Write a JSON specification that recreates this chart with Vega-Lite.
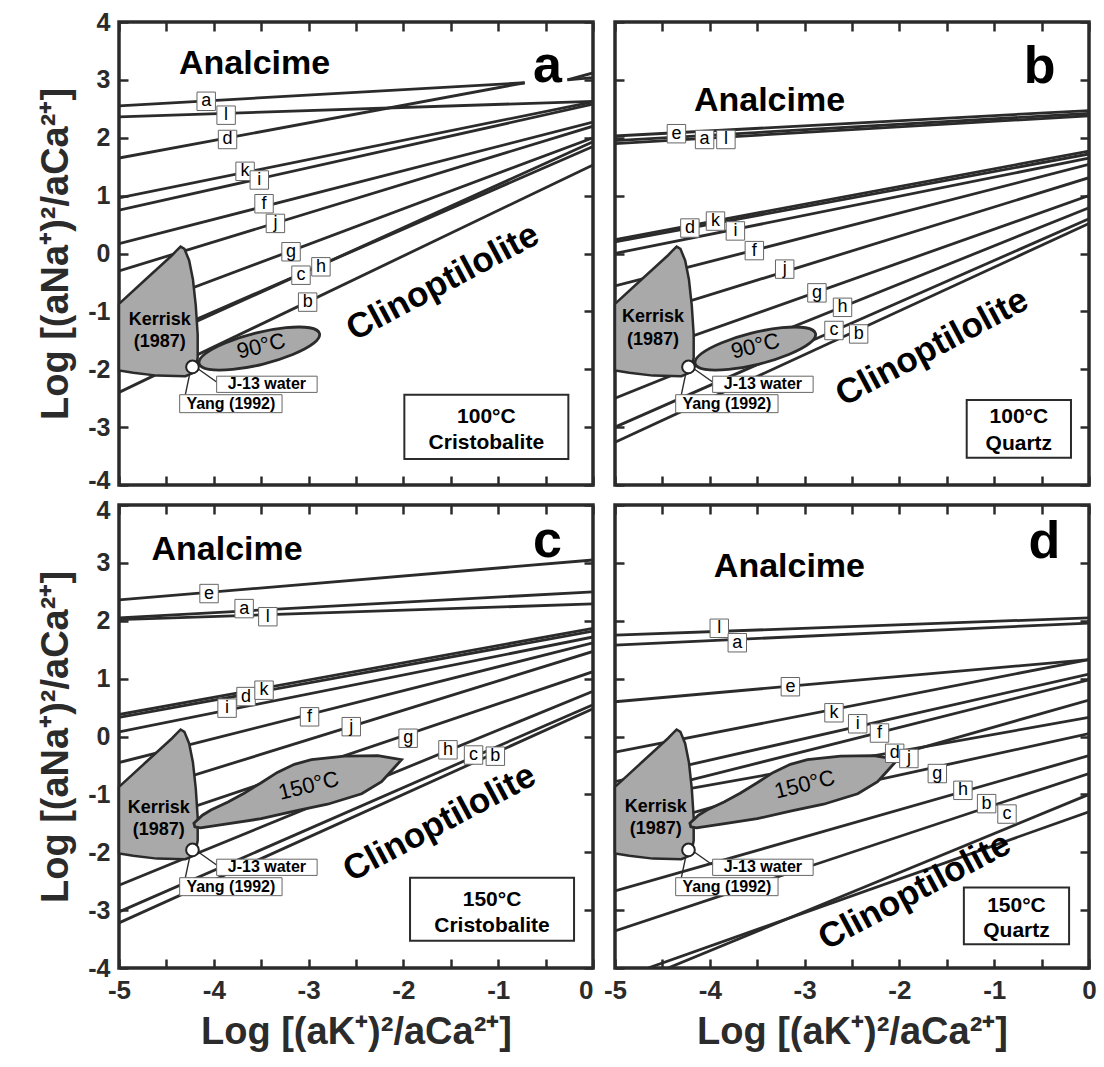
{
"$schema":"https://vega.github.io/schema/vega-lite/v6.json",
"padding":{"left":36,"top":8,"right":8,"bottom":5},
"background":"white",
"bounds":"flush",
"columns":2,
"spacing":{"row":20,"column":22},
"config":{
 "font":"Liberation Sans",
 "mark":{"color":"#2b2b2b"},
 "view":{"stroke":"#2b2b2b","strokeWidth":3.5},
 "style":{
  "seg":{"strokeWidth":2.8},
  "tag":{"fontSize":18,"align":"center","baseline":"middle"},
  "an":{"fontSize":34,"fontWeight":"bold","align":"center","baseline":"alphabetic"},
  "pl":{"fontSize":52,"fontWeight":"bold","align":"center","baseline":"alphabetic"},
  "cl":{"fontSize":35,"fontWeight":"bold","align":"center","baseline":"middle","angle":-28},
  "ke":{"fontSize":18,"fontWeight":"bold","align":"center","baseline":"middle"},
  "sh":{"fontSize":22,"align":"center","baseline":"middle","angle":-14},
  "bx":{"fontSize":21,"fontWeight":"bold","align":"center","baseline":"middle"},
  "sm":{"fontSize":16,"fontWeight":"bold","align":"center","baseline":"middle"}
 }
},
"datasets":{
 "L":[
  {"p":"a","id":"a","x":-5,"y":2.55},{"p":"a","id":"a","x":-0.72,"y":2.95},
  {"p":"a","id":"d","x":-5,"y":1.65},{"p":"a","id":"d","x":-0.72,"y":2.95},
  {"p":"a","id":"a2","x":-0.27,"y":3.0},{"p":"a","id":"a2","x":0,"y":3.04},
  {"p":"a","id":"a3","x":-0.27,"y":3.0},{"p":"a","id":"a3","x":0,"y":3.12},
  {"p":"a","id":"l","x":-5,"y":2.36},{"p":"a","id":"l","x":0,"y":2.63},
  {"p":"a","id":"k","x":-5,"y":0.96},{"p":"a","id":"k","x":0,"y":2.62},
  {"p":"a","id":"i","x":-5,"y":0.75},{"p":"a","id":"i","x":0,"y":2.58},
  {"p":"a","id":"f","x":-5,"y":0.17},{"p":"a","id":"f","x":0,"y":2.27},
  {"p":"a","id":"j","x":-5,"y":-0.3},{"p":"a","id":"j","x":0,"y":2.2},
  {"p":"a","id":"g","x":-5,"y":-1.07},{"p":"a","id":"g","x":0,"y":2.0},
  {"p":"a","id":"c","x":-5,"y":-1.72},{"p":"a","id":"c","x":0,"y":1.85},
  {"p":"a","id":"h","x":-5,"y":-1.78},{"p":"a","id":"h","x":0,"y":1.93},
  {"p":"a","id":"b","x":-5,"y":-2.4},{"p":"a","id":"b","x":0,"y":1.53},
  {"p":"b","id":"e","x":-5,"y":2.03},{"p":"b","id":"e","x":0,"y":2.47},
  {"p":"b","id":"a","x":-5,"y":1.95},{"p":"b","id":"a","x":0,"y":2.42},
  {"p":"b","id":"l","x":-5,"y":1.9},{"p":"b","id":"l","x":0,"y":2.38},
  {"p":"b","id":"d","x":-5,"y":0.24},{"p":"b","id":"d","x":0,"y":1.77},
  {"p":"b","id":"k","x":-5,"y":0.2},{"p":"b","id":"k","x":0,"y":1.72},
  {"p":"b","id":"i","x":-5,"y":0.0},{"p":"b","id":"i","x":0,"y":1.65},
  {"p":"b","id":"f","x":-5,"y":-0.56},{"p":"b","id":"f","x":0,"y":1.54},
  {"p":"b","id":"j","x":-5,"y":-1.22},{"p":"b","id":"j","x":0,"y":1.31},
  {"p":"b","id":"g","x":-5,"y":-1.9},{"p":"b","id":"g","x":0,"y":1.0},
  {"p":"b","id":"h","x":-5,"y":-2.5},{"p":"b","id":"h","x":0,"y":0.79},
  {"p":"b","id":"c","x":-5,"y":-3.0},{"p":"b","id":"c","x":0,"y":0.6},
  {"p":"b","id":"b","x":-5,"y":-3.26},{"p":"b","id":"b","x":0,"y":0.52},
  {"p":"c","id":"e","x":-5,"y":2.36},{"p":"c","id":"e","x":0,"y":3.05},
  {"p":"c","id":"a","x":-5,"y":2.05},{"p":"c","id":"a","x":0,"y":2.5},
  {"p":"c","id":"l","x":-5,"y":2.02},{"p":"c","id":"l","x":0,"y":2.29},
  {"p":"c","id":"d","x":-5,"y":0.38},{"p":"c","id":"d","x":0,"y":1.87},
  {"p":"c","id":"k","x":-5,"y":0.33},{"p":"c","id":"k","x":0,"y":1.82},
  {"p":"c","id":"i","x":-5,"y":0.08},{"p":"c","id":"i","x":0,"y":1.72},
  {"p":"c","id":"f","x":-5,"y":-0.45},{"p":"c","id":"f","x":0,"y":1.62},
  {"p":"c","id":"j","x":-5,"y":-1.07},{"p":"c","id":"j","x":0,"y":1.47},
  {"p":"c","id":"g","x":-5,"y":-1.65},{"p":"c","id":"g","x":0,"y":1.12},
  {"p":"c","id":"h","x":-5,"y":-2.57},{"p":"c","id":"h","x":0,"y":0.78},
  {"p":"c","id":"c","x":-5,"y":-3.03},{"p":"c","id":"c","x":0,"y":0.55},
  {"p":"c","id":"b","x":-5,"y":-3.22},{"p":"c","id":"b","x":0,"y":0.48},
  {"p":"d","id":"l","x":-5,"y":1.75},{"p":"d","id":"l","x":0,"y":2.05},
  {"p":"d","id":"a","x":-5,"y":1.58},{"p":"d","id":"a","x":0,"y":1.96},
  {"p":"d","id":"e","x":-5,"y":0.6},{"p":"d","id":"e","x":0,"y":1.33},
  {"p":"d","id":"k","x":-5,"y":-0.27},{"p":"d","id":"k","x":0,"y":1.33},
  {"p":"d","id":"i","x":-5,"y":-0.78},{"p":"d","id":"i","x":0,"y":1.08},
  {"p":"d","id":"f","x":-5,"y":-1.08},{"p":"d","id":"f","x":0,"y":0.98},
  {"p":"d","id":"d","x":-5,"y":-1.13},{"p":"d","id":"d","x":0,"y":0.33},
  {"p":"d","id":"j","x":-5,"y":-1.7},{"p":"d","id":"j","x":0,"y":0.63},
  {"p":"d","id":"g","x":-5,"y":-1.74},{"p":"d","id":"g","x":0,"y":0.05},
  {"p":"d","id":"h","x":-5,"y":-2.67},{"p":"d","id":"h","x":0,"y":-0.33},
  {"p":"d","id":"b","x":-5,"y":-3.36},{"p":"d","id":"b","x":0,"y":-0.64},
  {"p":"d","id":"c","x":-4.44,"y":-4},{"p":"d","id":"c","x":0,"y":-1.0},
  {"p":"d","id":"m","x":-4.65,"y":-4},{"p":"d","id":"m","x":0,"y":-1.3}
 ],
 "T":[
  {"p":"a","t":"a","x":-4.08,"y":2.63},{"p":"a","t":"l","x":-3.87,"y":2.39},{"p":"a","t":"d","x":-3.855,"y":1.97},
  {"p":"a","t":"k","x":-3.67,"y":1.42},{"p":"a","t":"i","x":-3.52,"y":1.27},{"p":"a","t":"f","x":-3.47,"y":0.86},
  {"p":"a","t":"j","x":-3.35,"y":0.52},{"p":"a","t":"g","x":-3.185,"y":0.03},{"p":"a","t":"c","x":-3.08,"y":-0.375},
  {"p":"a","t":"h","x":-2.87,"y":-0.23},{"p":"a","t":"b","x":-3.01,"y":-0.84},
  {"p":"b","t":"e","x":-4.352,"y":2.07},{"p":"b","t":"a","x":-4.055,"y":1.97},{"p":"b","t":"l","x":-3.83,"y":1.97},
  {"p":"b","t":"d","x":-4.21,"y":0.44},{"p":"b","t":"k","x":-3.94,"y":0.56},{"p":"b","t":"i","x":-3.73,"y":0.39},
  {"p":"b","t":"f","x":-3.53,"y":0.05},{"p":"b","t":"j","x":-3.21,"y":-0.27},{"p":"b","t":"g","x":-2.87,"y":-0.68},
  {"p":"b","t":"h","x":-2.6,"y":-0.93},{"p":"b","t":"c","x":-2.69,"y":-1.33},{"p":"b","t":"b","x":-2.43,"y":-1.39},
  {"p":"c","t":"e","x":-4.05,"y":2.47},{"p":"c","t":"a","x":-3.68,"y":2.21},{"p":"c","t":"l","x":-3.43,"y":2.07},
  {"p":"c","t":"i","x":-3.86,"y":0.49},{"p":"c","t":"d","x":-3.66,"y":0.69},{"p":"c","t":"k","x":-3.47,"y":0.8},
  {"p":"c","t":"f","x":-2.99,"y":0.34},{"p":"c","t":"j","x":-2.55,"y":0.17},{"p":"c","t":"g","x":-1.95,"y":-0.03},
  {"p":"c","t":"h","x":-1.53,"y":-0.23},{"p":"c","t":"c","x":-1.26,"y":-0.32},{"p":"c","t":"b","x":-1.03,"y":-0.34},
  {"p":"d","t":"l","x":-3.9,"y":1.87},{"p":"d","t":"a","x":-3.71,"y":1.62},{"p":"d","t":"e","x":-3.15,"y":0.86},
  {"p":"d","t":"k","x":-2.69,"y":0.41},{"p":"d","t":"i","x":-2.44,"y":0.22},{"p":"d","t":"f","x":-2.21,"y":0.06},
  {"p":"d","t":"d","x":-2.05,"y":-0.29},{"p":"d","t":"j","x":-1.9,"y":-0.38},{"p":"d","t":"g","x":-1.6,"y":-0.64},
  {"p":"d","t":"h","x":-1.33,"y":-0.93},{"p":"d","t":"b","x":-1.08,"y":-1.16},{"p":"d","t":"c","x":-0.865,"y":-1.34}
 ],
 "K":[
  {"o":1,"x":-5,"y":-0.87},{"o":2,"x":-4.72,"y":-0.45},{"o":3,"x":-4.44,"y":-0.03},{"o":4,"x":-4.38,"y":0.07},
  {"o":5,"x":-4.35,"y":0.12},{"o":6,"x":-4.31,"y":0.08},{"o":7,"x":-4.26,"y":-0.12},{"o":8,"x":-4.22,"y":-0.45},
  {"o":9,"x":-4.19,"y":-0.9},{"o":10,"x":-4.17,"y":-1.4},{"o":11,"x":-4.17,"y":-1.8},{"o":12,"x":-4.2,"y":-2.05},
  {"o":13,"x":-4.3,"y":-2.12},{"o":14,"x":-4.6,"y":-2.11},{"o":15,"x":-4.85,"y":-2.06},{"o":16,"x":-5,"y":-2.02}
 ],
 "E":[
  {"o":1,"x":-2.885,"y":-1.383},{"o":2,"x":-2.949,"y":-1.553},{"o":3,"x":-3.167,"y":-1.744},{"o":4,"x":-3.479,"y":-1.91},
  {"o":5,"x":-3.802,"y":-2.003},{"o":6,"x":-4.051,"y":-2.002},{"o":7,"x":-4.155,"y":-1.902},{"o":8,"x":-4.091,"y":-1.732},
  {"o":9,"x":-3.873,"y":-1.541},{"o":10,"x":-3.561,"y":-1.375},{"o":11,"x":-3.238,"y":-1.282},{"o":12,"x":-2.989,"y":-1.283}
 ],
 "S":[
  {"o":1,"x":-4.21,"y":-1.5},{"o":2,"x":-4.12,"y":-1.36},{"o":3,"x":-4.03,"y":-1.27},{"o":4,"x":-3.85,"y":-1.13},
  {"o":5,"x":-3.68,"y":-0.98},{"o":6,"x":-3.5,"y":-0.8},{"o":7,"x":-3.33,"y":-0.62},{"o":8,"x":-3.15,"y":-0.48},
  {"o":9,"x":-2.97,"y":-0.4},{"o":10,"x":-2.62,"y":-0.34},{"o":11,"x":-2.27,"y":-0.33},{"o":12,"x":-2.02,"y":-0.4},
  {"o":13,"x":-2.13,"y":-0.6},{"o":14,"x":-2.23,"y":-0.78},{"o":15,"x":-2.44,"y":-0.99},{"o":16,"x":-2.8,"y":-1.17},
  {"o":17,"x":-3.15,"y":-1.29},{"o":18,"x":-3.5,"y":-1.42},{"o":19,"x":-3.86,"y":-1.51},{"o":20,"x":-4.14,"y":-1.58},
  {"o":21,"x":-4.2,"y":-1.56}
 ],
 "C":[{"x":-4.225,"y":-1.96}],
 "D":[{"id":"j","x":-4.16,"y":-2.0},{"id":"j","x":-3.97,"y":-2.22},{"id":"y","x":-4.25,"y":-2.05},{"id":"y","x":-4.3,"y":-2.44}],
 "R":[
  {"p":"*","x":-3.97,"x2":-2.91,"y":-2.12,"y2":-2.4},
  {"p":"*","x":-4.36,"x2":-3.28,"y":-2.44,"y2":-2.75},
  {"p":"a","x":-1.99,"x2":-0.26,"y":-2.44,"y2":-3.55},
  {"p":"b","x":-1.29,"x2":-0.19,"y":-2.53,"y2":-3.53},
  {"p":"c","x":-1.93,"x2":-0.2,"y":-2.44,"y2":-3.53},
  {"p":"d","x":-1.32,"x2":-0.21,"y":-2.61,"y2":-3.59}
 ],
 "W":[
  {"p":"a","k":"an","t":"Analcime","x":-3.57,"y":3.11},
  {"p":"b","k":"an","t":"Analcime","x":-3.37,"y":2.46},
  {"p":"c","k":"an","t":"Analcime","x":-3.86,"y":3.05},
  {"p":"d","k":"an","t":"Analcime","x":-3.16,"y":2.76},
  {"p":"a","k":"pl","t":"a","x":-0.48,"y":2.96},
  {"p":"b","k":"pl","t":"b","x":-0.52,"y":2.95},
  {"p":"c","k":"pl","t":"c","x":-0.48,"y":3.1},
  {"p":"d","k":"pl","t":"d","x":-0.47,"y":3.08},
  {"p":"a","k":"cl","t":"Clinoptilolite","x":-1.585,"y":-0.49},
  {"p":"b","k":"cl","t":"Clinoptilolite","x":-1.656,"y":-1.62},
  {"p":"c","k":"cl","t":"Clinoptilolite","x":-1.62,"y":-1.49},
  {"p":"d","k":"cl","t":"Clinoptilolite","x":-1.84,"y":-2.67},
  {"p":"a","k":"ke","t":"Kerrisk","x":-4.57,"y":-1.15},{"p":"a","k":"ke","t":"(1987)","x":-4.57,"y":-1.53},
  {"p":"b","k":"ke","t":"Kerrisk","x":-4.6,"y":-1.1},{"p":"b","k":"ke","t":"(1987)","x":-4.6,"y":-1.49},
  {"p":"c","k":"ke","t":"Kerrisk","x":-4.58,"y":-1.24},{"p":"c","k":"ke","t":"(1987)","x":-4.58,"y":-1.61},
  {"p":"d","k":"ke","t":"Kerrisk","x":-4.57,"y":-1.22},{"p":"d","k":"ke","t":"(1987)","x":-4.57,"y":-1.6},
  {"p":"a","k":"sh","t":"90°C","x":-3.5,"y":-1.6},
  {"p":"b","k":"sh","t":"90°C","x":-3.52,"y":-1.6},
  {"p":"c","k":"sh","t":"150°C","x":-3.0,"y":-0.85},
  {"p":"d","k":"sh","t":"150°C","x":-3.0,"y":-0.83},
  {"p":"a","k":"bx","t":"100°C","x":-1.125,"y":-2.82},{"p":"a","k":"bx","t":"Cristobalite","x":-1.125,"y":-3.28},
  {"p":"b","k":"bx","t":"100°C","x":-0.74,"y":-2.83},{"p":"b","k":"bx","t":"Quartz","x":-0.74,"y":-3.29},
  {"p":"c","k":"bx","t":"150°C","x":-1.065,"y":-2.82},{"p":"c","k":"bx","t":"Cristobalite","x":-1.065,"y":-3.28},
  {"p":"d","k":"bx","t":"150°C","x":-0.765,"y":-2.93},{"p":"d","k":"bx","t":"Quartz","x":-0.765,"y":-3.36},
  {"p":"*","k":"sm","t":"J-13 water","x":-3.44,"y":-2.26},
  {"p":"*","k":"sm","t":"Yang (1992)","x":-3.82,"y":-2.595}
 ]
},
"concat":[
 {
  "width":474,"height":463,
  "encoding":{"x":{"field":"x","type":"quantitative","scale":{"domain":[-5,0],"nice":false,"zero":false},"axis":null},
              "y":{"field":"y","type":"quantitative","scale":{"domain":[-4,4],"nice":false,"zero":false},"axis":null}},
  "layer":[
   {"data":{"name":"L"},"transform":[{"filter":"datum.p=='a'"}],"mark":{"type":"line","style":"seg","clip":true},
    "encoding":{"detail":{"field":"id"},
     "x":{"field":"x","type":"quantitative","scale":{"domain":[-5,0],"nice":false,"zero":false},
          "axis":{"orient":"bottom","values":[-5,-4.5,-4,-3.5,-3,-2.5,-2,-1.5,-1,-0.5,0],"labels":false,"title":null,"tickSize":-9,"tickWidth":2.5,"tickColor":"#2b2b2b","domain":false,"grid":false}},
     "y":{"field":"y","type":"quantitative","scale":{"domain":[-4,4],"nice":false,"zero":false},
          "axis":{"orient":"left","values":[-4,-3,-2,-1,0,1,2,3,4],"labelExpr":"datum.value < 0 ? '-' + abs(datum.value) : '' + datum.value","labelOffset":{"condition":{"test":"datum.value == -4","value":-5},"value":0},"labelFontSize":25,"labelFontWeight":"bold","labelColor":"#2b2b2b","labelPadding":18,"labelFlush":false,"labelOverlap":false,"tickSize":-9,"tickWidth":2.5,"tickColor":"#2b2b2b","domain":false,"grid":false,"title":"Log [(aNa⁺)²/aCa²⁺]","titleFontSize":38,"titleFontWeight":"bold","titleColor":"#2b2b2b","titlePadding":12}}}},
   {"data":{"name":"D"},"mark":{"type":"line","strokeWidth":1.4},"encoding":{"detail":{"field":"id"}}},
   {"data":{"name":"K"},"mark":{"type":"line","interpolate":"linear-closed","fill":"#a9a9a9","strokeWidth":2.5},"encoding":{"order":{"field":"o"}}},
   {"data":{"name":"E"},"mark":{"type":"line","interpolate":"cardinal-closed","fill":"#a9a9a9","strokeWidth":2.8},"encoding":{"order":{"field":"o"}}},
   {"data":{"name":"C"},"mark":{"type":"point","shape":"circle","size":160,"filled":true,"fill":"white","stroke":"#222","strokeWidth":2,"opacity":1}},
   {"data":{"name":"R"},"transform":[{"filter":"datum.p=='*'"}],"mark":{"type":"rect","fill":"white","stroke":"#666","strokeWidth":1},"encoding":{"x2":{"field":"x2"},"y2":{"field":"y2"}}},
   {"data":{"name":"R"},"transform":[{"filter":"datum.p=='a'"}],"mark":{"type":"rect","fill":"white","stroke":"#2b2b2b","strokeWidth":2},
    "encoding":{"x2":{"field":"x2"},"y2":{"field":"y2"},
     "x":{"field":"x","type":"quantitative","scale":{"domain":[-5,0],"nice":false,"zero":false},
          "axis":{"orient":"top","values":[-5,-4.5,-4,-3.5,-3,-2.5,-2,-1.5,-1,-0.5,0],"labels":false,"title":null,"tickSize":-9,"tickWidth":2.5,"tickColor":"#2b2b2b","domain":false,"grid":false}},
     "y":{"field":"y","type":"quantitative","scale":{"domain":[-4,4],"nice":false,"zero":false},
          "axis":{"orient":"right","values":[-4,-3,-2,-1,0,1,2,3,4],"labels":false,"title":null,"tickSize":-9,"tickWidth":2.5,"tickColor":"#2b2b2b","domain":false,"grid":false}}}},
   {"data":{"name":"T"},"transform":[{"filter":"datum.p=='a'"}],"mark":{"type":"point","shape":"square","size":340,"filled":true,"fill":"white","stroke":"#666","strokeWidth":1,"opacity":1}},
   {"data":{"name":"T"},"transform":[{"filter":"datum.p=='a'"}],"mark":{"type":"text","style":"tag"},"encoding":{"text":{"field":"t"}}},
   {"data":{"name":"W"},"transform":[{"filter":"datum.p=='a' && datum.k=='an'"}],"mark":{"type":"text","style":"an"},"encoding":{"text":{"field":"t"}}},
   {"data":{"name":"W"},"transform":[{"filter":"datum.p=='a' && datum.k=='pl'"}],"mark":{"type":"text","style":"pl"},"encoding":{"text":{"field":"t"}}},
   {"data":{"name":"W"},"transform":[{"filter":"datum.p=='a' && datum.k=='cl'"}],"mark":{"type":"text","style":"cl"},"encoding":{"text":{"field":"t"}}},
   {"data":{"name":"W"},"transform":[{"filter":"datum.p=='a' && datum.k=='ke'"}],"mark":{"type":"text","style":"ke"},"encoding":{"text":{"field":"t"}}},
   {"data":{"name":"W"},"transform":[{"filter":"datum.p=='a' && datum.k=='sh'"}],"mark":{"type":"text","style":"sh"},"encoding":{"text":{"field":"t"}}},
   {"data":{"name":"W"},"transform":[{"filter":"datum.p=='a' && datum.k=='bx'"}],"mark":{"type":"text","style":"bx"},"encoding":{"text":{"field":"t"}}},
   {"data":{"name":"W"},"transform":[{"filter":"datum.k=='sm'"}],"mark":{"type":"text","style":"sm"},"encoding":{"text":{"field":"t"}}}
  ],
  "resolve":{"axis":{"x":"independent","y":"independent"}}
 },
 {
  "width":474,"height":463,
  "encoding":{"x":{"field":"x","type":"quantitative","scale":{"domain":[-5,0],"nice":false,"zero":false},"axis":null},
              "y":{"field":"y","type":"quantitative","scale":{"domain":[-4,4],"nice":false,"zero":false},"axis":null}},
  "layer":[
   {"data":{"name":"L"},"transform":[{"filter":"datum.p=='b'"}],"mark":{"type":"line","style":"seg","clip":true},
    "encoding":{"detail":{"field":"id"},
     "x":{"field":"x","type":"quantitative","scale":{"domain":[-5,0],"nice":false,"zero":false},
          "axis":{"orient":"bottom","values":[-5,-4.5,-4,-3.5,-3,-2.5,-2,-1.5,-1,-0.5,0],"labels":false,"title":null,"tickSize":-9,"tickWidth":2.5,"tickColor":"#2b2b2b","domain":false,"grid":false}},
     "y":{"field":"y","type":"quantitative","scale":{"domain":[-4,4],"nice":false,"zero":false},
          "axis":{"orient":"left","values":[-4,-3,-2,-1,0,1,2,3,4],"labels":false,"title":null,"tickSize":-9,"tickWidth":2.5,"tickColor":"#2b2b2b","domain":false,"grid":false}}}},
   {"data":{"name":"D"},"mark":{"type":"line","strokeWidth":1.4},"encoding":{"detail":{"field":"id"}}},
   {"data":{"name":"K"},"mark":{"type":"line","interpolate":"linear-closed","fill":"#a9a9a9","strokeWidth":2.5},"encoding":{"order":{"field":"o"}}},
   {"data":{"name":"E"},"mark":{"type":"line","interpolate":"cardinal-closed","fill":"#a9a9a9","strokeWidth":2.8},"encoding":{"order":{"field":"o"}}},
   {"data":{"name":"C"},"mark":{"type":"point","shape":"circle","size":160,"filled":true,"fill":"white","stroke":"#222","strokeWidth":2,"opacity":1}},
   {"data":{"name":"R"},"transform":[{"filter":"datum.p=='*'"}],"mark":{"type":"rect","fill":"white","stroke":"#666","strokeWidth":1},"encoding":{"x2":{"field":"x2"},"y2":{"field":"y2"}}},
   {"data":{"name":"R"},"transform":[{"filter":"datum.p=='b'"}],"mark":{"type":"rect","fill":"white","stroke":"#2b2b2b","strokeWidth":2},
    "encoding":{"x2":{"field":"x2"},"y2":{"field":"y2"},
     "x":{"field":"x","type":"quantitative","scale":{"domain":[-5,0],"nice":false,"zero":false},
          "axis":{"orient":"top","values":[-5,-4.5,-4,-3.5,-3,-2.5,-2,-1.5,-1,-0.5,0],"labels":false,"title":null,"tickSize":-9,"tickWidth":2.5,"tickColor":"#2b2b2b","domain":false,"grid":false}},
     "y":{"field":"y","type":"quantitative","scale":{"domain":[-4,4],"nice":false,"zero":false},
          "axis":{"orient":"right","values":[-4,-3,-2,-1,0,1,2,3,4],"labels":false,"title":null,"tickSize":-9,"tickWidth":2.5,"tickColor":"#2b2b2b","domain":false,"grid":false}}}},
   {"data":{"name":"T"},"transform":[{"filter":"datum.p=='b'"}],"mark":{"type":"point","shape":"square","size":340,"filled":true,"fill":"white","stroke":"#666","strokeWidth":1,"opacity":1}},
   {"data":{"name":"T"},"transform":[{"filter":"datum.p=='b'"}],"mark":{"type":"text","style":"tag"},"encoding":{"text":{"field":"t"}}},
   {"data":{"name":"W"},"transform":[{"filter":"datum.p=='b' && datum.k=='an'"}],"mark":{"type":"text","style":"an"},"encoding":{"text":{"field":"t"}}},
   {"data":{"name":"W"},"transform":[{"filter":"datum.p=='b' && datum.k=='pl'"}],"mark":{"type":"text","style":"pl"},"encoding":{"text":{"field":"t"}}},
   {"data":{"name":"W"},"transform":[{"filter":"datum.p=='b' && datum.k=='cl'"}],"mark":{"type":"text","style":"cl"},"encoding":{"text":{"field":"t"}}},
   {"data":{"name":"W"},"transform":[{"filter":"datum.p=='b' && datum.k=='ke'"}],"mark":{"type":"text","style":"ke"},"encoding":{"text":{"field":"t"}}},
   {"data":{"name":"W"},"transform":[{"filter":"datum.p=='b' && datum.k=='sh'"}],"mark":{"type":"text","style":"sh"},"encoding":{"text":{"field":"t"}}},
   {"data":{"name":"W"},"transform":[{"filter":"datum.p=='b' && datum.k=='bx'"}],"mark":{"type":"text","style":"bx"},"encoding":{"text":{"field":"t"}}},
   {"data":{"name":"W"},"transform":[{"filter":"datum.k=='sm'"}],"mark":{"type":"text","style":"sm"},"encoding":{"text":{"field":"t"}}}
  ],
  "resolve":{"axis":{"x":"independent","y":"independent"}}
 },
 {
  "width":474,"height":463,
  "encoding":{"x":{"field":"x","type":"quantitative","scale":{"domain":[-5,0],"nice":false,"zero":false},"axis":null},
              "y":{"field":"y","type":"quantitative","scale":{"domain":[-4,4],"nice":false,"zero":false},"axis":null}},
  "layer":[
   {"data":{"name":"L"},"transform":[{"filter":"datum.p=='c'"}],"mark":{"type":"line","style":"seg","clip":true},
    "encoding":{"detail":{"field":"id"},
     "x":{"field":"x","type":"quantitative","scale":{"domain":[-5,0],"nice":false,"zero":false},
          "axis":{"orient":"bottom","values":[-5,-4.5,-4,-3.5,-3,-2.5,-2,-1.5,-1,-0.5,0],"labelExpr":"datum.value % 1 == 0 ? (datum.value < 0 ? '-' + abs(datum.value) : '' + datum.value) : ''","labelAlign":{"condition":{"test":"datum.value == 0","value":"right"},"value":"center"},"labelFontSize":26,"labelFontWeight":"bold","labelColor":"#2b2b2b","labelPadding":18,"labelFlush":false,"labelOverlap":false,"tickSize":-9,"tickWidth":2.5,"tickColor":"#2b2b2b","domain":false,"grid":false,"title":"Log [(aK⁺)²/aCa²⁺]","titleFontSize":38,"titleFontWeight":"bold","titleColor":"#2b2b2b","titlePadding":10}},
     "y":{"field":"y","type":"quantitative","scale":{"domain":[-4,4],"nice":false,"zero":false},
          "axis":{"orient":"left","values":[-4,-3,-2,-1,0,1,2,3,4],"labelExpr":"datum.value < 0 ? '-' + abs(datum.value) : '' + datum.value","labelOffset":{"condition":{"test":"datum.value == 4","value":5},"value":0},"labelFontSize":25,"labelFontWeight":"bold","labelColor":"#2b2b2b","labelPadding":18,"labelFlush":false,"labelOverlap":false,"tickSize":-9,"tickWidth":2.5,"tickColor":"#2b2b2b","domain":false,"grid":false,"title":"Log [(aNa⁺)²/aCa²⁺]","titleFontSize":38,"titleFontWeight":"bold","titleColor":"#2b2b2b","titlePadding":12}}}},
   {"data":{"name":"D"},"mark":{"type":"line","strokeWidth":1.4},"encoding":{"detail":{"field":"id"}}},
   {"data":{"name":"K"},"mark":{"type":"line","interpolate":"linear-closed","fill":"#a9a9a9","strokeWidth":2.5},"encoding":{"order":{"field":"o"}}},
   {"data":{"name":"S"},"mark":{"type":"line","interpolate":"linear-closed","fill":"#a9a9a9","strokeWidth":2.8},"encoding":{"order":{"field":"o"}}},
   {"data":{"name":"C"},"mark":{"type":"point","shape":"circle","size":160,"filled":true,"fill":"white","stroke":"#222","strokeWidth":2,"opacity":1}},
   {"data":{"name":"R"},"transform":[{"filter":"datum.p=='*'"}],"mark":{"type":"rect","fill":"white","stroke":"#666","strokeWidth":1},"encoding":{"x2":{"field":"x2"},"y2":{"field":"y2"}}},
   {"data":{"name":"R"},"transform":[{"filter":"datum.p=='c'"}],"mark":{"type":"rect","fill":"white","stroke":"#2b2b2b","strokeWidth":2},
    "encoding":{"x2":{"field":"x2"},"y2":{"field":"y2"},
     "x":{"field":"x","type":"quantitative","scale":{"domain":[-5,0],"nice":false,"zero":false},
          "axis":{"orient":"top","values":[-5,-4.5,-4,-3.5,-3,-2.5,-2,-1.5,-1,-0.5,0],"labels":false,"title":null,"tickSize":-9,"tickWidth":2.5,"tickColor":"#2b2b2b","domain":false,"grid":false}},
     "y":{"field":"y","type":"quantitative","scale":{"domain":[-4,4],"nice":false,"zero":false},
          "axis":{"orient":"right","values":[-4,-3,-2,-1,0,1,2,3,4],"labels":false,"title":null,"tickSize":-9,"tickWidth":2.5,"tickColor":"#2b2b2b","domain":false,"grid":false}}}},
   {"data":{"name":"T"},"transform":[{"filter":"datum.p=='c'"}],"mark":{"type":"point","shape":"square","size":340,"filled":true,"fill":"white","stroke":"#666","strokeWidth":1,"opacity":1}},
   {"data":{"name":"T"},"transform":[{"filter":"datum.p=='c'"}],"mark":{"type":"text","style":"tag"},"encoding":{"text":{"field":"t"}}},
   {"data":{"name":"W"},"transform":[{"filter":"datum.p=='c' && datum.k=='an'"}],"mark":{"type":"text","style":"an"},"encoding":{"text":{"field":"t"}}},
   {"data":{"name":"W"},"transform":[{"filter":"datum.p=='c' && datum.k=='pl'"}],"mark":{"type":"text","style":"pl"},"encoding":{"text":{"field":"t"}}},
   {"data":{"name":"W"},"transform":[{"filter":"datum.p=='c' && datum.k=='cl'"}],"mark":{"type":"text","style":"cl"},"encoding":{"text":{"field":"t"}}},
   {"data":{"name":"W"},"transform":[{"filter":"datum.p=='c' && datum.k=='ke'"}],"mark":{"type":"text","style":"ke"},"encoding":{"text":{"field":"t"}}},
   {"data":{"name":"W"},"transform":[{"filter":"datum.p=='c' && datum.k=='sh'"}],"mark":{"type":"text","style":"sh"},"encoding":{"text":{"field":"t"}}},
   {"data":{"name":"W"},"transform":[{"filter":"datum.p=='c' && datum.k=='bx'"}],"mark":{"type":"text","style":"bx"},"encoding":{"text":{"field":"t"}}},
   {"data":{"name":"W"},"transform":[{"filter":"datum.k=='sm'"}],"mark":{"type":"text","style":"sm"},"encoding":{"text":{"field":"t"}}}
  ],
  "resolve":{"axis":{"x":"independent","y":"independent"}}
 },
 {
  "width":474,"height":463,
  "encoding":{"x":{"field":"x","type":"quantitative","scale":{"domain":[-5,0],"nice":false,"zero":false},"axis":null},
              "y":{"field":"y","type":"quantitative","scale":{"domain":[-4,4],"nice":false,"zero":false},"axis":null}},
  "layer":[
   {"data":{"name":"L"},"transform":[{"filter":"datum.p=='d'"}],"mark":{"type":"line","style":"seg","clip":true},
    "encoding":{"detail":{"field":"id"},
     "x":{"field":"x","type":"quantitative","scale":{"domain":[-5,0],"nice":false,"zero":false},
          "axis":{"orient":"bottom","values":[-5,-4.5,-4,-3.5,-3,-2.5,-2,-1.5,-1,-0.5,0],"labelExpr":"datum.value % 1 == 0 ? (datum.value < 0 ? '-' + abs(datum.value) : '' + datum.value) : ''","labelFontSize":26,"labelFontWeight":"bold","labelColor":"#2b2b2b","labelPadding":18,"labelFlush":false,"labelOverlap":false,"tickSize":-9,"tickWidth":2.5,"tickColor":"#2b2b2b","domain":false,"grid":false,"title":"Log [(aK⁺)²/aCa²⁺]","titleFontSize":38,"titleFontWeight":"bold","titleColor":"#2b2b2b","titlePadding":10}},
     "y":{"field":"y","type":"quantitative","scale":{"domain":[-4,4],"nice":false,"zero":false},
          "axis":{"orient":"left","values":[-4,-3,-2,-1,0,1,2,3,4],"labels":false,"title":null,"tickSize":-9,"tickWidth":2.5,"tickColor":"#2b2b2b","domain":false,"grid":false}}}},
   {"data":{"name":"D"},"mark":{"type":"line","strokeWidth":1.4},"encoding":{"detail":{"field":"id"}}},
   {"data":{"name":"K"},"mark":{"type":"line","interpolate":"linear-closed","fill":"#a9a9a9","strokeWidth":2.5},"encoding":{"order":{"field":"o"}}},
   {"data":{"name":"S"},"mark":{"type":"line","interpolate":"linear-closed","fill":"#a9a9a9","strokeWidth":2.8},"encoding":{"order":{"field":"o"}}},
   {"data":{"name":"C"},"mark":{"type":"point","shape":"circle","size":160,"filled":true,"fill":"white","stroke":"#222","strokeWidth":2,"opacity":1}},
   {"data":{"name":"R"},"transform":[{"filter":"datum.p=='*'"}],"mark":{"type":"rect","fill":"white","stroke":"#666","strokeWidth":1},"encoding":{"x2":{"field":"x2"},"y2":{"field":"y2"}}},
   {"data":{"name":"R"},"transform":[{"filter":"datum.p=='d'"}],"mark":{"type":"rect","fill":"white","stroke":"#2b2b2b","strokeWidth":2},
    "encoding":{"x2":{"field":"x2"},"y2":{"field":"y2"},
     "x":{"field":"x","type":"quantitative","scale":{"domain":[-5,0],"nice":false,"zero":false},
          "axis":{"orient":"top","values":[-5,-4.5,-4,-3.5,-3,-2.5,-2,-1.5,-1,-0.5,0],"labels":false,"title":null,"tickSize":-9,"tickWidth":2.5,"tickColor":"#2b2b2b","domain":false,"grid":false}},
     "y":{"field":"y","type":"quantitative","scale":{"domain":[-4,4],"nice":false,"zero":false},
          "axis":{"orient":"right","values":[-4,-3,-2,-1,0,1,2,3,4],"labels":false,"title":null,"tickSize":-9,"tickWidth":2.5,"tickColor":"#2b2b2b","domain":false,"grid":false}}}},
   {"data":{"name":"T"},"transform":[{"filter":"datum.p=='d'"}],"mark":{"type":"point","shape":"square","size":340,"filled":true,"fill":"white","stroke":"#666","strokeWidth":1,"opacity":1}},
   {"data":{"name":"T"},"transform":[{"filter":"datum.p=='d'"}],"mark":{"type":"text","style":"tag"},"encoding":{"text":{"field":"t"}}},
   {"data":{"name":"W"},"transform":[{"filter":"datum.p=='d' && datum.k=='an'"}],"mark":{"type":"text","style":"an"},"encoding":{"text":{"field":"t"}}},
   {"data":{"name":"W"},"transform":[{"filter":"datum.p=='d' && datum.k=='pl'"}],"mark":{"type":"text","style":"pl"},"encoding":{"text":{"field":"t"}}},
   {"data":{"name":"W"},"transform":[{"filter":"datum.p=='d' && datum.k=='cl'"}],"mark":{"type":"text","style":"cl"},"encoding":{"text":{"field":"t"}}},
   {"data":{"name":"W"},"transform":[{"filter":"datum.p=='d' && datum.k=='ke'"}],"mark":{"type":"text","style":"ke"},"encoding":{"text":{"field":"t"}}},
   {"data":{"name":"W"},"transform":[{"filter":"datum.p=='d' && datum.k=='sh'"}],"mark":{"type":"text","style":"sh"},"encoding":{"text":{"field":"t"}}},
   {"data":{"name":"W"},"transform":[{"filter":"datum.p=='d' && datum.k=='bx'"}],"mark":{"type":"text","style":"bx"},"encoding":{"text":{"field":"t"}}},
   {"data":{"name":"W"},"transform":[{"filter":"datum.k=='sm'"}],"mark":{"type":"text","style":"sm"},"encoding":{"text":{"field":"t"}}}
  ],
  "resolve":{"axis":{"x":"independent","y":"independent"}}
 }
]
}
